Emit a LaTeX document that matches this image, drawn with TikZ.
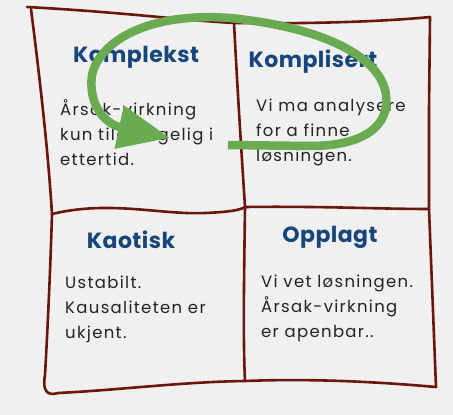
\documentclass[tikz,border=0pt]{standalone}
\usepackage{fontspec}
\setmainfont{Poppins}
\usepackage{xcolor}
\usetikzlibrary{arrows.meta}

\definecolor{bgray}{RGB}{240,240,240}
\definecolor{framered}{RGB}{105,22,12}
\definecolor{loopgreen}{RGB}{106,170,80}
\definecolor{titleblue}{RGB}{24,70,122}
\definecolor{bodyink}{RGB}{35,35,35}

\begin{document}
\begin{tikzpicture}[
    x=1pt, y=-1pt,
    frame/.style={draw=framered, line width=2.6pt, line cap=round, line join=round},
    title/.style={font=\fontsize{22}{24}\selectfont\bfseries\addfontfeatures{LetterSpace=2},
                  text=titleblue, inner sep=0pt},
    body/.style={font=\fontsize{16.5}{25}\selectfont\addfontfeatures{LetterSpace=8},
                 text=bodyink, align=left, anchor=north west, inner sep=0pt},
    loop/.style={draw=loopgreen, line width=8.5pt, line cap=butt,
                 -{Triangle[length=52pt, width=42pt]}}
]
\useasboundingbox (0,0) rectangle (453,415);
\fill[bgray] (0,0) rectangle (453,415);

% corners of the hand drawn grid
\coordinate (tl) at (27,7);
\coordinate (tm) at (234,23);
\coordinate (tr) at (430,17);
\coordinate (ml) at (52,214);
\coordinate (mm) at (245,207);
\coordinate (mr) at (429,209);
\coordinate (bl) at (47,394);
\coordinate (bm) at (245,381);
\coordinate (br) at (436,387);

% outer frame
\draw[frame] (tl) .. controls (120,12) and (180,20) .. (tm)
    .. controls (300,24) and (380,22) .. (tr);
\draw[frame] (31,9) .. controls (40,80) and (48,150) .. (ml)
    .. controls (50,280) and (47,340) .. (45,375)
    .. controls (42,392) and (48,396) .. (58,393);
\draw[frame] (58,393) .. controls (120,390) and (180,382) .. (bm)
    .. controls (320,378) and (390,383) .. (br);
\draw[frame] (tr) -- (429,110) -- (mr) -- (br);

% inner cross
\draw[frame] (tm) .. controls (238,100) and (242,160) .. (mm)
    .. controls (244,280) and (243,340) .. (bm);
\draw[frame] (ml) .. controls (110,200) and (160,215) .. (205,213)
    .. controls (230,212) and (240,210) .. (mm);
\draw[frame] (mm) .. controls (320,206) and (380,209) .. (mr);

% titles
\node[title] (komplekst)  at (136,57)  {Komplekst};
\node[title] (komplisert) at (313,62)  {Komplisert};
\node[title] (kaotisk)    at (131,240) {Kaotisk};
\node[title] (opplagt)    at (330,237) {Opplagt};

% cell texts
\node[body] (tltext) at (60,99)  {Årsak-virkning\\kun tilgjengelig i\\ettertid.};
\node[body] (trtext) at (256,99) {Vi ma analysere\\for a finne\\løsningen.};
\node[body] (bltext) at (65,276) {Ustabilt.\\Kausaliteten er\\ukjent.};
\node[body] (brtext) at (261,275) {Vi vet løsningen.\\Årsak-virkning\\er apenbar..};

% green loop
\coordinate (loopstart) at (228,145);
\coordinate (loopend) at (170,138);
\draw[loop] (loopstart) -- (310,146)
    .. controls (365,146) and (390,125) .. (386,95)
    .. controls (382,60) and (330,28) .. (230,18)
    .. controls (150,12) and (100,40) .. (92,75)
    .. controls (88,105) and (105,124) .. (loopend);
\end{tikzpicture}
\end{document}
